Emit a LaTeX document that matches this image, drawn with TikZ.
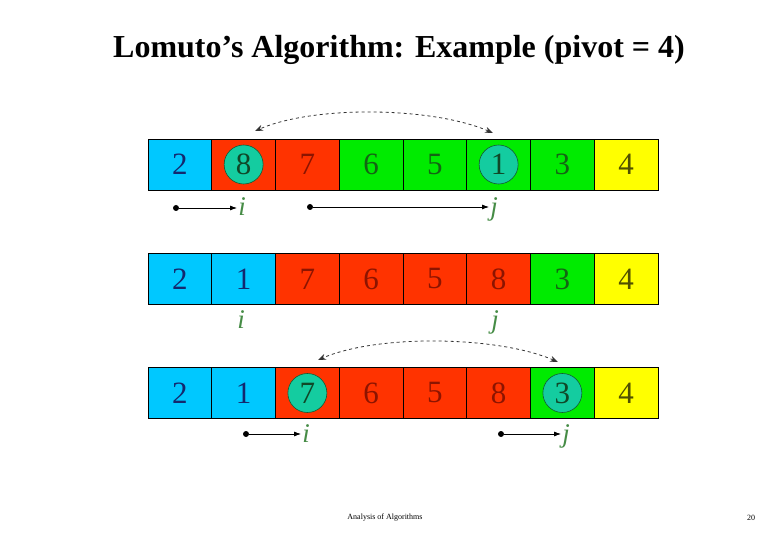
\documentclass[tikz,border=0pt]{standalone}
\usepackage{fontspec}
\setmainfont{Liberation Serif}
\usetikzlibrary{positioning,arrows.meta}
\definecolor{cb}{RGB}{0,200,255}
\definecolor{cr}{RGB}{255,51,0}
\definecolor{cg}{RGB}{0,235,0}
\definecolor{cy}{RGB}{255,255,0}
\definecolor{tcb}{RGB}{20,40,110}
\definecolor{tcr}{RGB}{140,20,0}
\definecolor{tcg}{RGB}{20,100,20}
\definecolor{tcy}{RGB}{80,80,0}
\definecolor{pickteal}{RGB}{20,204,160}
\definecolor{pickedge}{RGB}{20,90,50}
\definecolor{idxgreen}{RGB}{70,140,70}

\begin{document}
\begin{tikzpicture}[x=1pt,y=-1pt]
	\tikzset{cell/.style={draw=black, line width=0.8pt, minimum width=63.75pt, minimum height=51pt, inner sep=0pt, font=\fontsize{31}{32}\selectfont},
		plain/.style={},
		picked/.style={text=pickedge!80!black, path picture={\filldraw[fill=pickteal, draw=pickedge, line width=0.6pt] (path picture bounding box.center) circle (19.5pt);}},
		swaparrow/.style={dashed, {Stealth[length=8pt,width=6pt]}-{Stealth[length=8pt,width=6pt]}, line width=0.8pt, black!80},
		ptr/.style={-{Latex[length=7pt,width=5pt]}, line width=0.8pt},
		dot/.style={circle, fill=black, inner sep=0pt, minimum size=6pt},
		idx/.style={text=idxgreen, inner sep=1pt, font=\fontsize{27}{27}\selectfont\itshape}};
	\useasboundingbox (0,0) rectangle (780,540);
	\node[font=\fontsize{32}{36}\selectfont\bfseries] (title) at (399,50) {Lomuto’s Algorithm: Example (pivot = 4)};
	% first pass
	\foreach \v/\c/\o [count=\k] in {2/cb/plain,8/cr/picked,7/cr/plain,6/cg/plain,5/cg/plain,1/cg/picked,3/cg/plain,4/cy/plain}
		\node[cell, fill=\c, text=t\c, \o] (a\k) at ({148+63.75*(\k-0.5)},164.5) {\v};
	\coordinate (s1l) at (255,131);
	\coordinate (s1r) at (493,133);
	\draw[swaparrow] (s1r) .. controls +(-60,-26) and +(60,-26) .. (s1l);
	\node[dot] (d1) at (176,208) {};
	\node[idx] (i1) at (242,207) {i};
	\draw[ptr] (d1) -- (d1 -| i1.west);
	\node[dot] (d2) at (310,207) {};
	\node[idx] (j1) at (494,209) {j};
	\draw[ptr] (d2) -- (d2 -| j1.west);
	% after swap
	\foreach \v/\c [count=\k] in {2/cb,1/cb,7/cr,6/cr,5/cr,8/cr,3/cg,4/cy}
		\node[cell, fill=\c, text=t\c] (b\k) at ({148+63.75*(\k-0.5)},279) {\v};
	\node[idx] (i2) at (241,320) {i};
	\node[idx] (j2) at (495,322) {j};
	% last step
	\foreach \v/\c/\o [count=\k] in {2/cb/plain,1/cb/plain,7/cr/picked,6/cr/plain,5/cr/plain,8/cr/plain,3/cg/picked,4/cy/plain}
		\node[cell, fill=\c, text=t\c, \o] (c\k) at ({148+63.75*(\k-0.5)},393) {\v};
	\coordinate (s3l) at (318,360);
	\coordinate (s3r) at (558,362);
	\draw[swaparrow] (s3r) .. controls +(-60,-26) and +(60,-26) .. (s3l);
	\node[dot] (d3) at (246,434) {};
	\node[idx] (i3) at (306,434) {i};
	\draw[ptr] (d3) -- (d3 -| i3.west);
	\node[dot] (d4) at (501,434) {};
	\node[idx] (j3) at (566,436) {j};
	\draw[ptr] (d4) -- (d4 -| j3.west);
	\node[font=\fontsize{8}{9}\selectfont] (foot) at (385,518) {Analysis of Algorithms};
	\node[font=\fontsize{8}{9}\selectfont] (page) at (751,518) {20};
\end{tikzpicture}
\end{document}
